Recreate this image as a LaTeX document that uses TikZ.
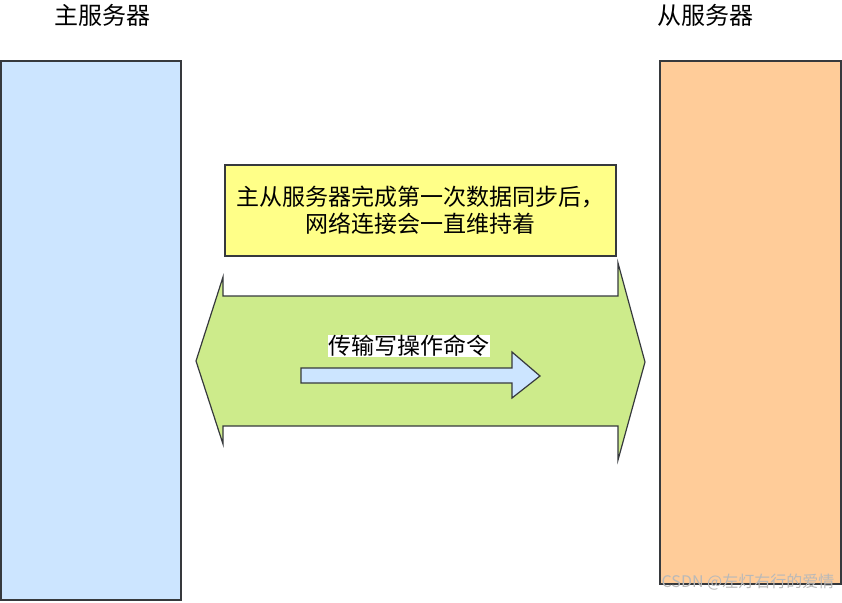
\documentclass[tikz,border=0pt]{standalone}
\usepackage{fontspec}
\newfontfamily\cjk{Noto Sans CJK SC}
\definecolor{masterblue}{HTML}{CCE5FF}
\definecolor{slaveorange}{HTML}{FFCC99}
\definecolor{noteyellow}{HTML}{FFFF88}
\definecolor{linkgreen}{HTML}{CDEB8B}
\definecolor{cmdblue}{HTML}{CCE5FF}
\definecolor{edgegray}{HTML}{36393D}
\begin{document}
\begin{tikzpicture}[x=1pt,y=-1pt]

  \tikzstyle{server}=[rectangle,draw=edgegray,line width=1.2pt,inner sep=0pt]
  \tikzstyle{titel}=[font=\cjk\fontsize{24}{28}\selectfont,inner sep=2pt]
  \tikzstyle{texto}=[font=\cjk\fontsize{23}{27}\selectfont,align=center]
  \tikzstyle{pfeil}=[draw=edgegray,line width=1.2pt,line join=miter]

  \useasboundingbox (0,0) rectangle (842,602);

  % servers
  \node [server,fill=masterblue,minimum width=180pt,minimum height=539pt] (s1) at (91,330.5) {};
  \node [server,fill=slaveorange,minimum width=181pt,minimum height=523pt] (s2) at (750.5,322.5) {};

  \node [titel] (n1) at (102,15) {主服务器};
  \node [titel] (n2) at (705,15) {从服务器};

  % note
  \node [server,fill=noteyellow,minimum width=391pt,minimum height=91pt,texto] (t1) at (420.5,210.5)
    {主从服务器完成第一次数据同步后，\\网络连接会一直维持着};

  % connection
  \draw [pfeil,fill=linkgreen] (196,361) -- (223,277) -- (223,296) -- (618,296) -- (618,263)
    -- (645,362) -- (618,460) -- (618,426) -- (223,426) -- (223,444) -- cycle;

  \draw [pfeil,fill=cmdblue] (301,368) -- (512,368) -- (512,352) -- (540,376)
    -- (512,398) -- (512,383) -- (301,383) -- cycle;

  \node [texto,fill=white,inner sep=0.5pt] (t2) at (409,346) {传输写操作命令};

  \node [font=\cjk\fontsize{16}{18}\selectfont,text=gray!55,inner sep=0pt] (w1) at (748,582) {CSDN @左灯右行的爱情};

\end{tikzpicture}
\end{document}
